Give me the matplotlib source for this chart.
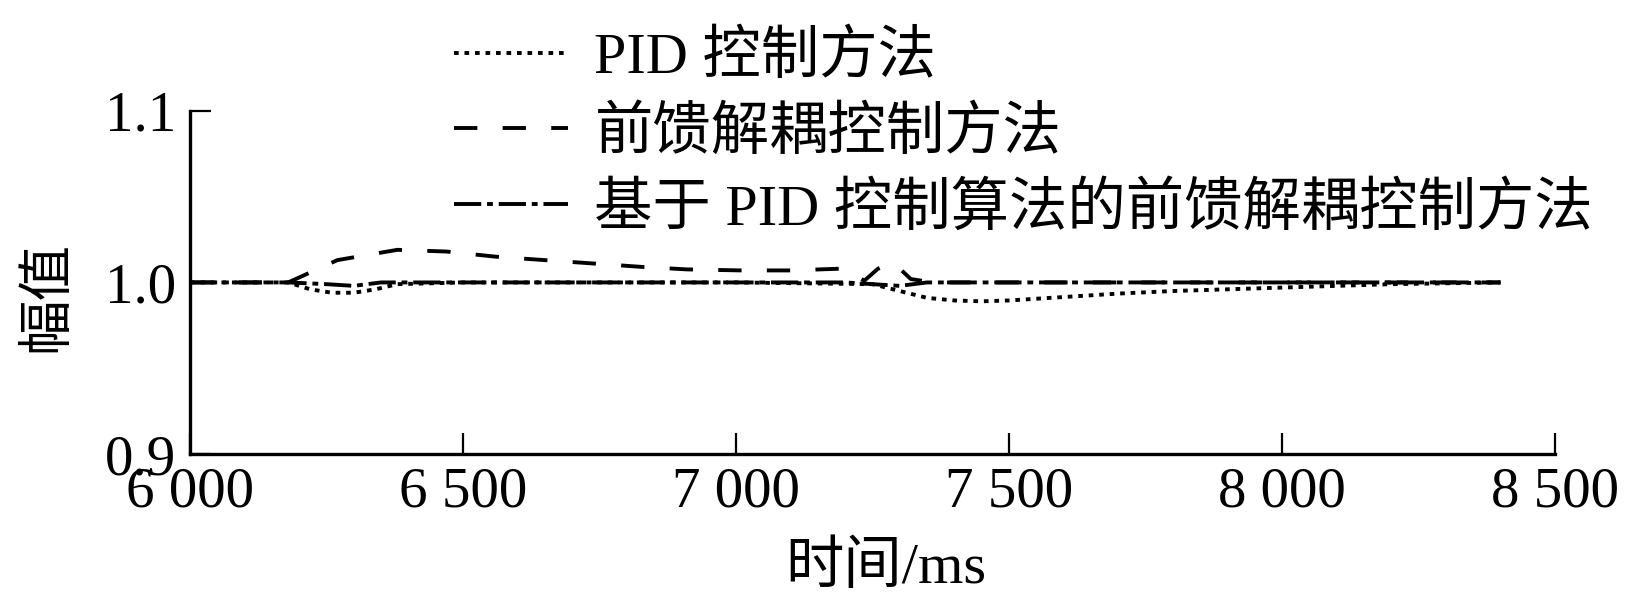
import matplotlib
matplotlib.use("Agg")
import matplotlib.pyplot as plt
from matplotlib.ticker import FixedLocator, FuncFormatter

plt.rcParams['font.family'] = ['Liberation Serif', 'Noto Sans CJK SC']

# ---- data ----
t_pid = [6000, 6100, 6180, 6220, 6260, 6300, 6340, 6380, 6500, 7000, 7250, 7300,
         7350, 7400, 7450, 7500, 7600, 7700, 7800, 7900, 8000, 8100, 8200, 8300, 8400]
v_pid = [1.0, 1.0, 1.0, 0.996, 0.994, 0.994, 0.996, 0.999, 1.0, 1.0, 0.999, 0.995,
         0.991, 0.9895, 0.989, 0.9895, 0.9915, 0.9935, 0.995, 0.996, 0.997, 0.998, 0.999, 0.9995, 1.0]

t_ff = [6000, 6180, 6270, 6380, 6470, 6560, 6650, 6740, 6830, 6910, 7010, 7100,
        7190, 7210, 7235, 7260, 7280, 7300, 7320, 7360, 7500, 8400]
v_ff = [1.0, 1.0, 1.013, 1.019, 1.018, 1.015, 1.013, 1.011, 1.009, 1.0076, 1.007, 1.007,
        1.008, 1.006, 1.001, 1.008, 1.011, 1.008, 1.002, 1.0, 1.0, 1.0]

t_prop = [6000, 6180, 6250, 6300, 6350, 7200, 7250, 7300, 7350, 8400]
v_prop = [1.0, 1.0, 0.999, 0.998, 1.0, 1.0, 0.999, 0.998, 1.0, 1.0]

labels = ["PID 控制方法", "前馈解耦控制方法", "基于 PID 控制算法的前馈解耦控制方法"]
xticks = [6000, 6500, 7000, 7500, 8000, 8500]
yticks = [0.9, 1.0, 1.1]
xlabel = "时间/ms"
ylabel = "幅值"

fig = plt.figure(figsize=(16.29, 6.12), dpi=100)
ax = fig.add_axes([0.1166, 0.258, 0.838, 0.561])

lw = 2.8
ax.plot(t_pid, v_pid, color='black', lw=lw, linestyle=(0, (1.2, 1.5)), label=labels[0])
ax.plot(t_ff, v_ff, color='black', lw=lw, linestyle=(0, (6, 6.5)), label=labels[1])
ax.plot(t_prop, v_prop, color='black', lw=lw, linestyle=(0, (7, 1.5, 1.5, 1.5)), label=labels[2])

ax.set_xlim(6000, 8500)
ax.set_ylim(0.9, 1.1)
ax.xaxis.set_major_locator(FixedLocator(xticks))
ax.yaxis.set_major_locator(FixedLocator(yticks))
ax.xaxis.set_major_formatter(FuncFormatter(lambda v, p: f"{int(v):,}".replace(",", " ")))
ax.yaxis.set_major_formatter(FuncFormatter(lambda v, p: f"{v:.1f}"))

for s in ['top', 'right']:
    ax.spines[s].set_visible(False)
for s in ['left', 'bottom']:
    ax.spines[s].set_linewidth(2.4)

ax.tick_params(axis='both', direction='in', length=15, width=1.6, labelsize=41)
ax.tick_params(axis='x', pad=9)
ax.tick_params(axis='y', pad=10)

ax.set_xlabel(xlabel, fontsize=42)
ax.xaxis.set_label_coords(0.51, -0.255)
ax.set_ylabel(ylabel, fontsize=40)
ax.yaxis.set_label_coords(-0.085, 0.46)

leg = fig.legend(loc='upper left', bbox_to_anchor=(0.279, 0.95), frameon=False,
                 fontsize=42, handlelength=1.95, handletextpad=0.45, labelspacing=0.36,
                 borderpad=0, borderaxespad=0)

fig.savefig("out.png", dpi=100)
